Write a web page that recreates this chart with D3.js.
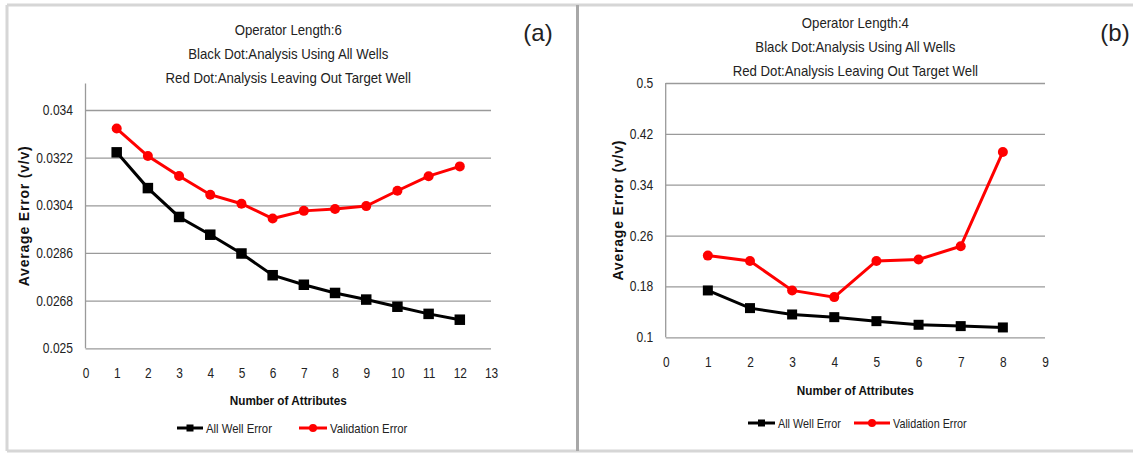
<!DOCTYPE html>
<html>
<head>
<meta charset="utf-8">
<script src="https://cdn.jsdelivr.net/npm/d3@7"></script>
<style>
  html, body { margin: 0; padding: 0; background: #fff; }
  svg { display: block; font-family: "Liberation Sans", Arial, sans-serif; }
</style>
</head>
<body>
<svg id="fig" width="1133" height="455"></svg>
<script>
// ---- Panel (a): operator length 6 ----
const attrsA = [1, 2, 3, 4, 5, 6, 7, 8, 9, 10, 11, 12];
const allWellA = [0.0324, 0.03105, 0.02996, 0.02929, 0.02858, 0.02776, 0.0274, 0.02709, 0.02684, 0.02657, 0.0263, 0.02608];
const validA = [0.0333, 0.03226, 0.03151, 0.0308, 0.03046, 0.0299, 0.03019, 0.03026, 0.03037, 0.03095, 0.0315, 0.03187];
const yTicksA = [0.025, 0.0268, 0.0286, 0.0304, 0.0322, 0.034];
const yLabelsA = ["0.025", "0.0268", "0.0286", "0.0304", "0.0322", "0.034"];
const xTicksA = [0, 1, 2, 3, 4, 5, 6, 7, 8, 9, 10, 11, 12, 13];
const titleA = ["Operator Length:6", "Black Dot:Analysis  Using All Wells", "Red Dot:Analysis  Leaving Out Target Well"];

// ---- Panel (b): operator length 4 ----
const attrsB = [1, 2, 3, 4, 5, 6, 7, 8];
const allWellB = [0.1737, 0.1459, 0.1359, 0.1317, 0.1254, 0.1197, 0.1176, 0.1155];
const validB = [0.2285, 0.2201, 0.1737, 0.1632, 0.2201, 0.2224, 0.2432, 0.3915];
const yTicksB = [0.1, 0.18, 0.26, 0.34, 0.42, 0.5];
const yLabelsB = ["0.1", "0.18", "0.26", "0.34", "0.42", "0.5"];
const xTicksB = [0, 1, 2, 3, 4, 5, 6, 7, 8, 9];
const titleB = ["Operator Length:4", "Black Dot:Analysis Using All Wells", "Red Dot:Analysis Leaving Out Target Well"];

const seriesNames = ["All Well Error", "Validation Error"];
const xTitle = "Number of Attributes";
const yTitle = "Average Error (v/v)";

const svg = d3.select("#fig");
svg.append("rect").attr("width", 1133).attr("height", 455).attr("fill", "#fff");

// squeeze text horizontally to mimic a narrow face
function condense(sel, f) {
  sel.each(function () {
    const L = this.getComputedTextLength();
    d3.select(this).attr("textLength", L * f).attr("lengthAdjust", "spacingAndGlyphs");
  });
}

// frame around the figure
const frame = svg.append("g").attr("fill", "none");
frame.append("line").attr("x1", 7).attr("x2", 1133).attr("y1", 5).attr("y2", 5).attr("stroke", "#d6d6d6").attr("stroke-width", 3);
frame.append("line").attr("x1", 7).attr("x2", 7).attr("y1", 5).attr("y2", 451).attr("stroke", "#d6d6d6").attr("stroke-width", 3);
frame.append("line").attr("x1", 7).attr("x2", 1133).attr("y1", 451).attr("y2", 451).attr("stroke", "#d6d6d6").attr("stroke-width", 3);
frame.append("line").attr("x1", 577.5).attr("x2", 577.5).attr("y1", 5).attr("y2", 451).attr("stroke", "#a8a8a8").attr("stroke-width", 3);

function panel(cfg) {
  const g = svg.append("g");
  const x = d3.scaleLinear().domain(cfg.xDomain).range([cfg.left, cfg.right]);
  const y = d3.scaleLinear().domain(cfg.yDomain).range([cfg.bottom, cfg.top]);
  const w = cfg.right - cfg.left;

  // horizontal gridlines + y labels
  const ya = g.append("g").attr("transform", `translate(${cfg.left},0)`)
    .call(d3.axisLeft(y).tickValues(cfg.yTicks).tickSize(-w).tickPadding(12.5)
      .tickFormat((d, i) => cfg.yLabels[i]));
  ya.select(".domain").remove();
  ya.selectAll(".tick line").attr("stroke", "#9a9a9a").attr("stroke-width", 1.3);
  ya.selectAll(".tick text").attr("fill", "#222").style("font-size", "14px");
  condense(ya.selectAll(".tick text"), 0.86);

  // y axis line
  g.append("line").attr("x1", cfg.left).attr("x2", cfg.left)
    .attr("y1", y(cfg.yDomain[1])).attr("y2", y(cfg.yDomain[0]))
    .attr("stroke", "#9a9a9a").attr("stroke-width", 1.3);

  // x labels
  const xa = g.append("g").attr("transform", `translate(0,${cfg.bottom})`)
    .call(d3.axisBottom(x).tickValues(cfg.xTicks).tickSize(0).tickPadding(19.5).tickFormat(d3.format("d")));
  xa.select(".domain").remove();
  xa.selectAll(".tick text").attr("fill", "#222").style("font-size", "14px");
  condense(xa.selectAll(".tick text"), 0.85);

  // titles
  const cx = (cfg.left + cfg.right) / 2;
  cfg.title.forEach((t, i) => {
    const tt = g.append("text").attr("x", cx).attr("y", cfg.titleY[i] + 5.5)
      .attr("text-anchor", "middle").attr("fill", "#222").style("font-size", "15px").text(t);
    condense(tt, 0.88);
  });
  g.append("text").attr("x", cfg.tag[1]).attr("y", 32 + 8.5).attr("text-anchor", "middle")
    .attr("fill", "#222").style("font-size", "24px").text(cfg.tag[0]);

  // axis titles
  const xt = g.append("text").attr("x", cx).attr("y", cfg.xTitleY + 5).attr("text-anchor", "middle")
    .attr("fill", "#111").style("font-size", "13.5px").style("font-weight", "bold").text(xTitle);
  condense(xt, 0.87);
  g.append("text").attr("transform", `translate(${cfg.yTitleX + 5},${(cfg.top + cfg.bottom) / 2}) rotate(-90)`)
    .attr("text-anchor", "middle").attr("fill", "#111").style("font-size", "14px")
    .style("font-weight", "bold").style("letter-spacing", "0.8px").text(yTitle);

  // series
  const line = d3.line().x(d => x(d[0])).y(d => y(d[1]));
  const black = cfg.attrs.map((a, i) => [a, cfg.allWell[i]]);
  const red = cfg.attrs.map((a, i) => [a, cfg.valid[i]]);
  g.append("path").datum(red).attr("d", line).attr("fill", "none").attr("stroke", "#ff0000").attr("stroke-width", 3);
  g.append("path").datum(black).attr("d", line).attr("fill", "none").attr("stroke", "#000").attr("stroke-width", 3);
  g.selectAll(".rdot").data(red).join("circle").attr("cx", d => x(d[0])).attr("cy", d => y(d[1]))
    .attr("r", cfg.dotR).attr("fill", "#ff0000");
  const s = cfg.sq;
  g.selectAll(".bsq").data(black).join("rect").attr("x", d => x(d[0]) - s / 2).attr("y", d => y(d[1]) - s / 2)
    .attr("width", s).attr("height", s).attr("fill", "#000");

  // legend
  const L = cfg.legend;
  const lg = g.append("g");
  lg.append("line").attr("x1", L.b[0]).attr("x2", L.b[1]).attr("y1", L.y).attr("y2", L.y).attr("stroke", "#000").attr("stroke-width", 3);
  lg.append("rect").attr("x", (L.b[0] + L.b[1]) / 2 - 3.5).attr("y", L.y - 3.5).attr("width", 7).attr("height", 7).attr("fill", "#000");
  lg.append("line").attr("x1", L.r[0]).attr("x2", L.r[1]).attr("y1", L.y).attr("y2", L.y).attr("stroke", "#ff0000").attr("stroke-width", 3);
  lg.append("circle").attr("cx", (L.r[0] + L.r[1]) / 2).attr("cy", L.y).attr("r", 4).attr("fill", "#ff0000");
  const t1 = lg.append("text").attr("x", L.b[1] + 3).attr("y", L.y + 5).attr("fill", "#222").style("font-size", "13.5px").text(seriesNames[0]);
  const t2 = lg.append("text").attr("x", L.r[1] + 3).attr("y", L.y + 5).attr("fill", "#222").style("font-size", "13.5px").text(seriesNames[1]);
  condense(t1, L.f); condense(t2, L.f);
}

panel({
  left: 85.5, right: 491, top: 83.5, bottom: 348.3,
  xDomain: [0, 13], yDomain: [0.025, 0.035],
  yTicks: yTicksA, yLabels: yLabelsA, xTicks: xTicksA,
  attrs: attrsA, allWell: allWellA, valid: validA,
  title: titleA, titleY: [29, 53, 77], tag: ["(a)", 538],
  xTitleY: 400, yTitleX: 24, sq: 10.5, dotR: 5,
  legend: { y: 428, b: [177, 203], r: [299, 327], f: 0.84 }
});

panel({
  left: 665.7, right: 1045, top: 83, bottom: 337.3,
  xDomain: [0, 9], yDomain: [0.1, 0.5],
  yTicks: yTicksB, yLabels: yLabelsB, xTicks: xTicksB,
  attrs: attrsB, allWell: allWellB, valid: validB,
  title: titleB, titleY: [22, 46, 70], tag: ["(b)", 1115],
  xTitleY: 390, yTitleX: 618, sq: 10, dotR: 5,
  legend: { y: 423, b: [748, 775], r: [854, 890], f: 0.8 }
});
</script>
</body>
</html>
